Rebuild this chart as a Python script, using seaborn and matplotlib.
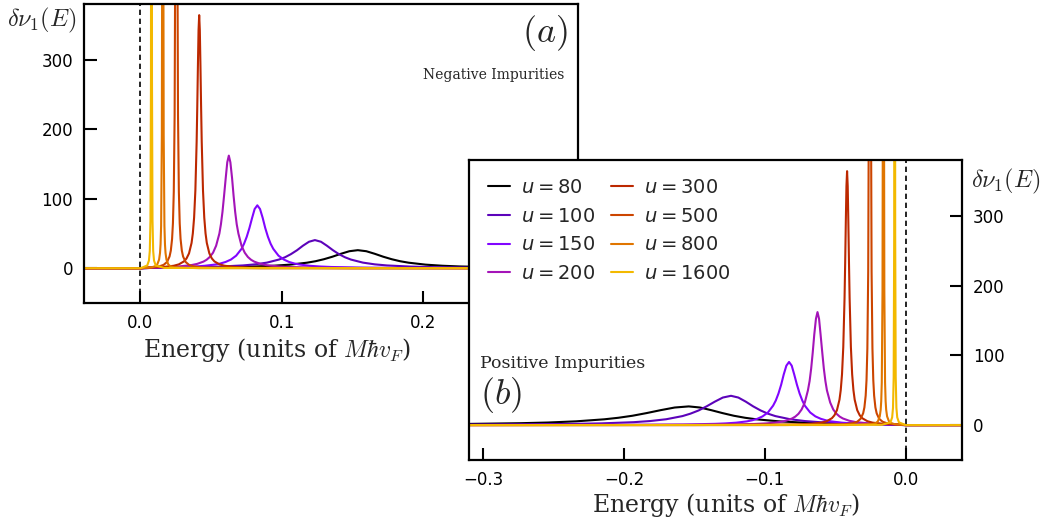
import matplotlib
matplotlib.use("Agg")
import matplotlib.pyplot as plt
import pandas as pd
import seaborn as sns

# ---------------- data ----------------
U_VALUES = [80, 100, 150, 200, 300, 500, 800, 1600]
COLORS = ["#000000", "#5c03ba", "#8105ff", "#a414b8",
          "#bc2800", "#cc4500", "#e07500", "#f3b900"]

# |E| sample points and delta-nu values, panel (a) (negative impurities)
E_U80_A = [-0.32, 0.0, 0.010, 0.034, 0.058, 0.082, 0.094, 0.106, 0.118, 0.124, 0.130, 0.136,
           0.142, 0.148, 0.154, 0.160, 0.166, 0.172, 0.178, 0.184, 0.190, 0.202, 0.214, 0.226,
           0.250, 0.274, 0.320]
Y_U80_A = [0, 0, 0.7, 1.0, 1.5, 2.6, 3.6, 5.2, 8.0, 10.1, 13.0, 16.6,
           20.8, 24.5, 26.0, 24.5, 20.8, 16.6, 13.0, 10.1, 8.0, 5.2, 3.6, 2.6,
           1.5, 1.0, 0.6]

E_U100_A = [-0.32, 0.0, 0.015, 0.0386, 0.0556, 0.0726, 0.0811, 0.0896, 0.0981, 0.1024, 0.1066,
            0.1109, 0.1151, 0.1194, 0.1236, 0.1279, 0.1321, 0.1364, 0.1406, 0.1449, 0.1491,
            0.1576, 0.1661, 0.1746, 0.1916, 0.2086, 0.2426, 0.3200]
Y_U100_A = [0, 0, 0.96, 1.56, 2.38, 4.05, 5.59, 8.1, 12.5, 15.8, 20.3,
            25.9, 32.4, 38.1, 40.5, 38.1, 32.4, 25.9, 20.3, 15.8, 12.5,
            8.1, 5.59, 4.05, 2.38, 1.56, 0.81, 0.33]

# panel (b) (positive impurities): the two broad peaks differ slightly, given at |E|
E_U80_B = [-0.32, 0.0, 0.026, 0.058, 0.074, 0.090, 0.106, 0.114, 0.122, 0.130, 0.138, 0.146,
           0.154, 0.164, 0.174, 0.184, 0.194, 0.204, 0.214, 0.234, 0.254, 0.274, 0.314, 0.330]
Y_U80_B = [0, 0, 1.6, 2.7, 3.7, 5.4, 8.3, 10.5, 13.4, 17.2, 21.4, 25.2,
           26.8, 25.2, 21.4, 17.2, 13.4, 10.5, 8.3, 5.4, 3.7, 2.7, 1.6, 1.4]

E_U100_B = [-0.32, 0.0, 0.019, 0.040, 0.061, 0.0715, 0.082, 0.0925, 0.0978, 0.103, 0.1083,
            0.1135, 0.1188, 0.124, 0.1298, 0.1355, 0.1413, 0.147, 0.1528, 0.1585, 0.170,
            0.1815, 0.193, 0.216, 0.239, 0.330]
Y_U100_B = [0, 0, 1.62, 2.47, 4.2, 5.8, 8.4, 12.9, 16.4, 21.0, 26.9,
            33.6, 39.5, 42.0, 39.5, 33.6, 26.9, 21.0, 16.4, 12.9, 8.4,
            5.8, 4.2, 2.47, 1.62, 0.55]

# narrow peaks, identical (mirrored) in both panels
E_U150 = [-0.32, 0.0, 0.0228, 0.0378, 0.0453, 0.0528, 0.0566, 0.0603, 0.0641, 0.0678, 0.0716,
          0.0734, 0.0753, 0.0772, 0.0791, 0.0809, 0.0828, 0.0847, 0.0866, 0.0884, 0.0903,
          0.0922, 0.0941, 0.0978, 0.1016, 0.1053, 0.1091, 0.1128, 0.1203, 0.1278, 0.1353,
          0.1578, 0.1878, 0.2328, 0.3300]
Y_U150 = [0, 0, 1.39, 2.45, 3.48, 5.32, 6.83, 9.05, 12.5, 18.1, 27.9,
          35.3, 45.3, 57.9, 72.4, 85.2, 90.5, 85.2, 72.4, 57.9, 45.3,
          35.3, 27.9, 18.1, 12.5, 9.05, 6.83, 5.32, 3.48, 2.45, 1.81,
          0.90, 0.46, 0.23, 0.09]

E_U200 = [-0.32, 0.0, 0.0041, 0.0176, 0.0266, 0.0356, 0.0401, 0.0446, 0.04685, 0.0491, 0.0514,
          0.0536, 0.0559, 0.0570, 0.0581, 0.0592, 0.0604, 0.0615, 0.0626, 0.0637, 0.0649,
          0.0660, 0.0671, 0.0682, 0.0694, 0.0716, 0.0739, 0.0761, 0.07835, 0.0806, 0.0851,
          0.0896, 0.0986, 0.1076, 0.1256, 0.1526, 0.3300]
Y_U200 = [0, 0, 0.95, 1.6, 2.49, 4.38, 6.23, 9.53, 12.2, 16.2, 22.3,
          32.4, 49.8, 63.2, 81.0, 103.7, 129.6, 152.4, 162.0, 152.4, 129.6,
          103.7, 81.0, 63.2, 49.8, 32.4, 22.3, 16.2, 12.2, 9.53, 6.23,
          4.38, 2.49, 1.6, 0.82, 0.4, 0.05]

E_U300 = [-0.32, 0.0, 0.0056, 0.0164, 0.0236, 0.0272, 0.0308, 0.0326, 0.0344, 0.0362, 0.0371,
          0.0380, 0.0389, 0.0398, 0.04025, 0.0407, 0.04115, 0.0416, 0.04205, 0.0425, 0.04295,
          0.0434, 0.0443, 0.0452, 0.0461, 0.0470, 0.0488, 0.0506, 0.0524, 0.0560, 0.0596,
          0.0668, 0.0776, 0.1496, 0.3300]
Y_U300 = [0, 0, 0.91, 1.85, 3.6, 5.6, 9.84, 14.0, 21.4, 36.4, 50.2,
          72.8, 112, 182, 233, 291, 342.5, 364, 342.5, 291, 233,
          182, 112, 72.8, 50.2, 36.4, 21.4, 14.0, 9.84, 5.6, 3.6,
          1.85, 0.91, 0.1, 0.02]

E_U500 = [-0.32, 0.0, 0.0074, 0.0134, 0.0164, 0.0188, 0.0206, 0.0215, 0.0224, 0.0230, 0.0236,
          0.0242, 0.0248, 0.0254, 0.0260, 0.0266, 0.0272, 0.0278, 0.0284, 0.0293, 0.0302,
          0.0320, 0.0344, 0.0374, 0.0434, 0.0854, 0.3300]
Y_U500 = [0, 0, 1.22, 2.74, 4.87, 9.0, 16.9, 25.4, 42.3, 64.7, 110,
          220, 550, 1100, 550, 220, 110, 64.7, 42.3, 25.4, 16.9,
          9.0, 4.87, 2.74, 1.22, 0.11, 0.01]

E_U800 = [-0.32, 0.0, 0.0080, 0.0106, 0.0119, 0.0132, 0.01385, 0.01424, 0.01463, 0.01515,
          0.01541, 0.01567, 0.0158, 0.01593, 0.01619, 0.01645, 0.01697, 0.01736, 0.01775,
          0.0184, 0.0197, 0.0210, 0.0236, 0.0418, 0.3300]
Y_U800 = [0, 0, 1.39, 3.12, 5.55, 12.5, 22.1, 34.5, 61, 192,
          500, 2500, 5000, 2500, 500, 192, 61, 34.5, 22.1,
          12.5, 5.55, 3.12, 1.39, 0.125, 0.0]

E_U1600 = [-0.32, 0.0, 0.0048, 0.0060, 0.0066, 0.00708, 0.00744, 0.00762, 0.00774, 0.0078,
           0.00786, 0.00798, 0.00816, 0.00852, 0.0090, 0.0096, 0.0108, 0.0168, 0.3300]
Y_U1600 = [0, 0, 4.0, 11.1, 24.9, 68.9, 270, 1000, 5000, 10000,
           5000, 1000, 270, 68.9, 24.9, 11.1, 4.0, 0.44, 0.0]

X_TICKS_A = [0.0, 0.1, 0.2, 0.3]
X_TICKS_B = [-0.3, -0.2, -0.1, 0.0]
Y_TICKS = [0, 100, 200, 300]

# ---------------- assemble long tables ----------------
CURVES_A = [(E_U80_A, Y_U80_A), (E_U100_A, Y_U100_A), (E_U150, Y_U150), (E_U200, Y_U200),
            (E_U300, Y_U300), (E_U500, Y_U500), (E_U800, Y_U800), (E_U1600, Y_U1600)]
CURVES_B = [(E_U80_B, Y_U80_B), (E_U100_B, Y_U100_B), (E_U150, Y_U150), (E_U200, Y_U200),
            (E_U300, Y_U300), (E_U500, Y_U500), (E_U800, Y_U800), (E_U1600, Y_U1600)]
LABELS = [f"$u = {u}$" for u in U_VALUES]


def build(curves, sign):
    parts = []
    for lab, (e, y) in zip(LABELS, curves):
        parts.append(pd.DataFrame({"E": [sign * v for v in e], "dos": y, "label": lab}))
    return pd.concat(parts, ignore_index=True)


df_a = build(CURVES_A, 1.0)
df_b = build(CURVES_B, -1.0)

# ---------------- style ----------------
sns.set_style("ticks")
plt.rcParams.update({
    "font.family": ["DejaVu Sans"],
    "axes.linewidth": 1.6,
    "axes.edgecolor": "black",
    "xtick.color": "black",
    "ytick.color": "black",
})

fig = plt.figure(figsize=(10.45, 5.22), dpi=100)
ax_a = fig.add_axes([0.0804, 0.4195, 0.4727, 0.5728])
ax_b = fig.add_axes([0.4488, 0.1188, 0.4718, 0.5747])
ax_b.set_facecolor("white")

serif = ["DejaVu Serif"]

for ax, df, legend in ((ax_a, df_a, False), (ax_b, df_b, True)):
    ax.axvline(0.0, color="black", linestyle="--", linewidth=1.2, dashes=(3.2, 2.2), zorder=1)
    sns.lineplot(data=df, x="E", y="dos", hue="label", hue_order=LABELS, palette=COLORS,
                 estimator=None, sort=True, linewidth=1.5, ax=ax, legend=legend, zorder=2)
    ax.set_ylim(-50, 380)
    ax.set_yticks(Y_TICKS)
    ax.set_ylabel("")
    for s in ax.spines.values():
        s.set_visible(True)
        s.set_linewidth(1.6)
        s.set_color("black")
    ax.tick_params(direction="in", length=9, width=1.5, labelsize=12, pad=8)

# panel (a)
ax_a.set_xlim(-0.04, 0.31)
ax_a.set_xticks(X_TICKS_A)
ax_a.set_xticklabels([f"{t:.1f}" for t in X_TICKS_A])
ax_a.tick_params(top=False, right=False, left=True, bottom=True)
ax_a.set_xlabel(r"Energy (units of $M\hbar v_F$)", fontsize=17, family=serif, math_fontfamily="cm")
ax_a.xaxis.set_label_coords(0.39, -0.11)
ax_a.text(-0.085, 0.946, r"$\delta\nu_1(E)$", transform=ax_a.transAxes, fontsize=17.5,
          ha="center", va="center", math_fontfamily="cm")
ax_a.text(0.978, 0.903, r"$(a)$", transform=ax_a.transAxes, fontsize=26,
          ha="right", va="center", math_fontfamily="cm")
ax_a.text(0.973, 0.763, "Negative Impurities", transform=ax_a.transAxes, fontsize=10,
          ha="right", va="center", family=serif)

# panel (b)
ax_b.set_xlim(-0.31, 0.04)
ax_b.set_xticks(X_TICKS_B)
ax_b.set_xticklabels([f"{t:.1f}".replace("-", "\u2212") for t in X_TICKS_B])
ax_b.yaxis.tick_right()
ax_b.tick_params(top=False, left=False, right=True, bottom=True, labelleft=False, labelright=True)
ax_b.set_xlabel(r"Energy (units of $M\hbar v_F$)", fontsize=17, family=serif, math_fontfamily="cm")
ax_b.xaxis.set_label_coords(0.521, -0.102)
ax_b.text(1.089, 0.927, r"$\delta\nu_1(E)$", transform=ax_b.transAxes, fontsize=17.5,
          ha="center", va="center", math_fontfamily="cm")
ax_b.text(0.022, 0.217, r"$(b)$", transform=ax_b.transAxes, fontsize=26,
          ha="left", va="center", math_fontfamily="cm")
ax_b.text(0.022, 0.323, "Positive Impurities", transform=ax_b.transAxes, fontsize=12.5,
          ha="left", va="center", family=serif)

sns.move_legend(ax_b, "upper left", bbox_to_anchor=(0.038, 0.94), ncol=2, title=None,
                frameon=False, fontsize=14, handlelength=1.13, handletextpad=0.57,
                columnspacing=0.82, labelspacing=0.5, borderaxespad=0.0, borderpad=0.0)

fig.savefig("out.png", dpi=100)
